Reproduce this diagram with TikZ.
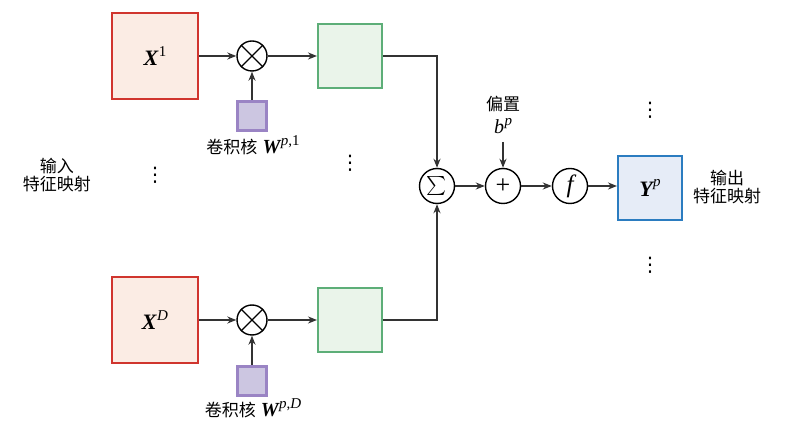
\documentclass[tikz,border=0pt]{standalone}
\usepackage{fontspec}
\newfontfamily\cjk{Noto Sans CJK SC}
\newfontfamily\tms{Liberation Serif}
\newfontfamily\djv{DejaVu Sans}
\usetikzlibrary{arrows.meta}
\definecolor{redB}{HTML}{D0352E}
\definecolor{redF}{HTML}{FBECE4}
\definecolor{grnB}{HTML}{5DAE78}
\definecolor{grnF}{HTML}{EAF4EA}
\definecolor{purB}{HTML}{9A84C4}
\definecolor{purF}{HTML}{CCC6E1}
\definecolor{bluB}{HTML}{2B7CC0}
\definecolor{bluF}{HTML}{E6ECF7}
\definecolor{lineC}{HTML}{333333}
\newcommand\mathf{\tms\fontsize{22}{24}\selectfont}
\newcommand\bvar[1]{{\bfseries\itshape #1}}
\newcommand\supx[1]{\kern0.5pt\raisebox{0.42em}{\fontsize{15}{15}\selectfont #1}}
\newcommand\mydots{{\djv\fontsize{20}{20}\selectfont ⋮}}
\begin{document}
\begin{tikzpicture}[x=1pt,y=-1pt,
  every node/.style={font=\fontsize{17}{20}\selectfont},
  inbox/.style={draw=redB,fill=redF,line width=2.4pt,minimum size=86pt,inner sep=0pt},
  midbox/.style={draw=grnB,fill=grnF,line width=2pt,minimum size=64pt,inner sep=0pt},
  kbox/.style={draw=purB,fill=purF,line width=3.2pt,minimum size=29pt,inner sep=0pt},
  outbox/.style={draw=bluB,fill=bluF,line width=2pt,minimum size=64pt,inner sep=0pt},
  op/.style={draw=black,circle,line width=1.4pt,minimum size=35pt,inner sep=0pt},
  mul/.style={draw=black,circle,line width=1.4pt,minimum size=30pt,inner sep=0pt},
  conn/.style={draw=lineC,line width=1.7pt,-{Stealth[length=9pt,width=7pt]}},
  lbl/.style={align=center,inner sep=0pt}]
\useasboundingbox (0,0) rectangle (785,427);
% top row
\node[inbox] (x1) at (155,56) {\mathf\bvar{X}\supx{1}};
\node[mul] (m1) at (252,56) {};
\draw[line width=1.4pt] (m1.45) -- (m1.225) (m1.135) -- (m1.315);
\node[midbox] (g1) at (350,56) {};
\node[kbox] (k1) at (252,116) {};
\node[lbl,anchor=base] (l1) at (253,154) {{\cjk 卷积核} {\tms\fontsize{20}{22}\selectfont\bvar{W}\supx{\itshape p\upshape ,1}}};
% bottom row
\node[inbox] (xd) at (155,320) {\mathf\bvar{X}\supx{\itshape D}};
\node[mul] (md) at (252,320) {};
\draw[line width=1.4pt] (md.45) -- (md.225) (md.135) -- (md.315);
\node[midbox] (gd) at (350,320) {};
\node[kbox] (kd) at (252,381) {};
\node[lbl,anchor=base] (ld) at (253,417) {{\cjk 卷积核} {\tms\fontsize{20}{22}\selectfont\bvar{W}\supx{\itshape p\upshape ,\itshape D}}};
% dots and labels
\node[lbl] (in) at (57,175) {\cjk 输入\\[-2pt]\cjk 特征映射};
\node[lbl] (d1) at (155,175) {\mydots};
\node[lbl] (d2) at (350,163) {\mydots};
\node[lbl] (d3) at (650,110) {\mydots};
\node[lbl] (d4) at (650,265) {\mydots};
% right part
\node[op] (sum) at (437,186) {\scalebox{1.9}{$\sum$}};
\node[op] (plus) at (503,186) {\tms\fontsize{26}{26}\selectfont +};
\node[op] (f) at (570,186) {\tms\fontsize{25}{26}\selectfont\itshape f};
\node[outbox] (y) at (650,188) {\mathf\bvar{Y}\supx{\itshape p}};
\node[lbl] (out) at (727,187) {\cjk 输出\\[-2pt]\cjk 特征映射};
\node[lbl] (bias) at (503,104) {\cjk 偏置};
\node[lbl] (b) at (503,126) {\tms\fontsize{20}{22}\selectfont\itshape b\supx{p}};
\coordinate (bs) at (503,142);
\coordinate (t1) at (437,56);
\coordinate (td) at (437,320);
% connectors
\draw[conn] (x1) -- (m1);
\draw[conn] (m1) -- (g1);
\draw[conn] (k1) -- (m1);
\draw[conn] (xd) -- (md);
\draw[conn] (md) -- (gd);
\draw[conn] (kd) -- (md);
\draw[conn] (g1.east) -- (t1) -- (sum);
\draw[conn] (gd.east) -- (td) -- (sum);
\draw[conn] (sum) -- (plus);
\draw[conn] (bs) -- (plus);
\draw[conn] (plus) -- (f);
\draw[conn] (f.east) -- (f.east -| y.west);
\end{tikzpicture}
\end{document}
